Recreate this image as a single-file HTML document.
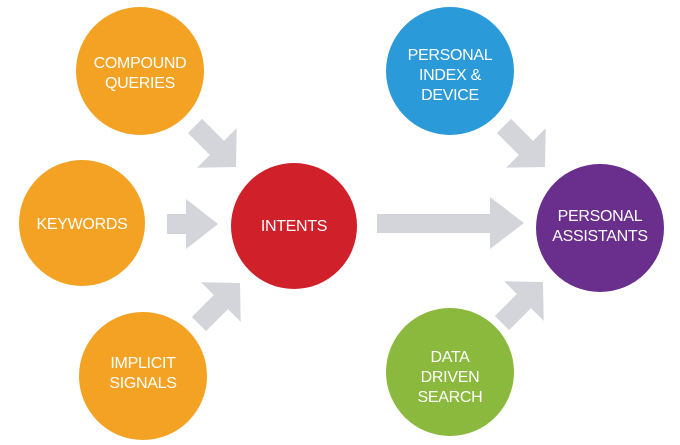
<!DOCTYPE html>
<html><head><style>
html,body{margin:0;padding:0;background:#fff;}
svg{display:block;}
text{font-family:"Liberation Sans",sans-serif;font-size:16px;fill:#fff;text-anchor:middle;letter-spacing:-0.3px;}
</style></head><body>
<svg width="680" height="445" viewBox="0 0 680 445" xmlns="http://www.w3.org/2000/svg">
<defs>
<polygon id="ar" points="-58,-10 -27,-10 -27,-28 0,0 -27,28 -27,10 -58,10" fill="#d4d5da"/>
</defs>
<circle cx="140" cy="71" r="64" fill="#f4a223"/>
<circle cx="82" cy="223" r="63" fill="#f4a223"/>
<circle cx="143" cy="376" r="64" fill="#f4a223"/>
<circle cx="294" cy="226" r="63" fill="#d0202a"/>
<circle cx="450" cy="71" r="64" fill="#2b9ad8"/>
<circle cx="600" cy="228" r="64" fill="#6a2e8c"/>
<circle cx="450" cy="372" r="64" fill="#8ab93e"/>

<polygon points="167,214 186,214 186,199 218,224 186,249 186,234 167,234" fill="#d4d5da"/>
<polygon points="377,214 490,214 490,197 524,223 490,249 490,233 377,233" fill="#d4d5da"/>
<use href="#ar" transform="translate(236,167) rotate(45)"/>
<use href="#ar" transform="translate(240,283) rotate(-45)"/>
<use href="#ar" transform="translate(545,167) rotate(45)"/>
<use href="#ar" transform="translate(543,282) rotate(-45)"/>

<text x="140" y="68">COMPOUND</text>
<text x="140" y="88">QUERIES</text>
<text x="82" y="229">KEYWORDS</text>
<text x="143" y="368">IMPLICIT</text>
<text x="143" y="388">SIGNALS</text>
<text x="294" y="231">INTENTS</text>
<text x="450" y="60">PERSONAL</text>
<text x="450" y="80">INDEX &amp;</text>
<text x="450" y="100">DEVICE</text>
<text x="600" y="221">PERSONAL</text>
<text x="600" y="241">ASSISTANTS</text>
<text x="450" y="362">DATA</text>
<text x="450" y="382">DRIVEN</text>
<text x="450" y="402">SEARCH</text>
</svg>
</body></html>
